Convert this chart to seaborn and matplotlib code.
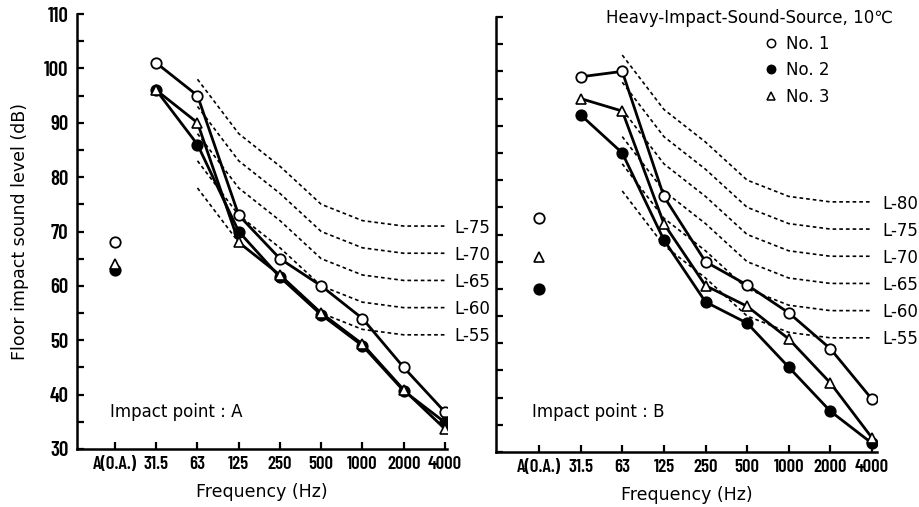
import numpy as np
import pandas as pd
import matplotlib
matplotlib.use("Agg")
import matplotlib.pyplot as plt
from matplotlib.lines import Line2D
from matplotlib.ticker import MultipleLocator, FixedLocator, NullFormatter
import seaborn as sns

# ---------------- data ----------------
freq_labels = ["A(O.A.)", "31.5", "63", "125", "250", "500", "1000", "2000", "4000"]
spec_freqs = ["31.5", "63", "125", "250", "500", "1000", "2000", "4000"]
lcurve_freqs = ["63", "125", "250", "500", "1000", "2000", "4000"]
series_names = ["No. 1", "No. 2", "No. 3"]

# Impact point A
aoa_A = [68, 63, 64]
no1_A = [101, 95, 73, 65, 60, 54, 45, 36.8]
no2_A = [96, 86, 70, 61.6, 54.7, 49, 40.7, 34.9]
no3_A = [96, 90, 68, 62, 55, 49.3, 40.9, 33.7]

# Impact point B
aoa_B = [73, 60, 65.8]
no1_B = [99, 100, 77, 65, 60.7, 55.6, 49, 39.7]
no2_B = [92, 85, 69, 57.6, 53.7, 45.6, 37.5, 31.6]
no3_B = [95, 92.7, 72, 60.6, 56.8, 50.8, 42.7, 32.6]

# L-curves (63 .. 4000 Hz)
L80 = [103, 93, 87, 80, 77, 76, 76]
L75 = [98, 88, 82, 75, 72, 71, 71]
L70 = [93, 83, 77, 70, 67, 66, 66]
L65 = [88, 78, 72, 65, 62, 61, 61]
L60 = [83, 73, 67, 60, 57, 56, 56]
L55 = [78, 68, 62, 55, 52, 51, 51]
left_lcurves = {"L-75": L75, "L-70": L70, "L-65": L65, "L-60": L60, "L-55": L55}
right_lcurves = {"L-80": L80, "L-75": L75, "L-70": L70, "L-65": L65, "L-60": L60, "L-55": L55}

# ---------------- style ----------------
sns.set_theme(style="ticks")
plt.rcParams["font.family"] = ["DejaVu Sans"]
plt.rcParams["axes.linewidth"] = 1.8
for k in ["text.color", "axes.labelcolor", "xtick.color", "ytick.color", "axes.edgecolor"]:
    plt.rcParams[k] = "black"

W, H = 919, 507
fig = plt.figure(figsize=(W / 100, H / 100), dpi=100)

def fx(px):
    return px / W

def fy(py):
    return 1 - py / H

ax1 = fig.add_axes([fx(77), fy(449), fx(447) - fx(77), fy(14) - fy(449)])
ax2 = fig.add_axes([fx(496), fy(452), fx(877) - fx(496), fy(17) - fy(452)])

pos = {f: i for i, f in enumerate(freq_labels)}
marker_styles = {
    "No. 1": dict(marker="o", mfc="white", mec="black", ms=7.5, mew=1.3),
    "No. 2": dict(marker="o", mfc="black", mec="black", ms=7.5, mew=1.3),
    "No. 3": dict(marker="^", mfc="white", mec="black", ms=7, mew=1.2),
}

cond_family = ["Barlow Condensed", "Sofia Sans Condensed", "DejaVu Sans"]

def draw_panel(ax, aoa, spectra, lcurves, label_text, xlim, text_pos):
    # L reference curves
    for name, vals in lcurves.items():
        d = pd.DataFrame({"x": [pos[f] for f in lcurve_freqs], "y": vals})
        sns.lineplot(data=d, x="x", y="y", ax=ax, color="black", lw=1.2,
                     linestyle=(0, (2.2, 1.8)), zorder=2)
        ax.text(8.24, vals[-1] - 0.3, name, ha="left", va="center", fontsize=12,
                clip_on=False, color="black")
    # measured spectra
    for name, vals in zip(series_names, spectra):
        d = pd.DataFrame({"x": [pos[f] for f in spec_freqs], "y": vals})
        sns.lineplot(data=d, x="x", y="y", ax=ax, color="black", lw=2.0,
                     zorder=3, **marker_styles[name])
    # A(O.A.) single values
    for name, v in zip(series_names, aoa):
        d = pd.DataFrame({"x": [pos["A(O.A.)"]], "y": [v]})
        sns.lineplot(data=d, x="x", y="y", ax=ax, color="black", lw=0,
                     zorder=4, **marker_styles[name])
    ax.set_xlim(*xlim)
    ax.set_ylim(30, 110)
    ax.set_xticks(range(len(freq_labels)))
    ax.set_xticklabels(freq_labels)
    for t in ax.get_xticklabels():
        t.set_family(cond_family)
        t.set_weight("semibold")
        t.set_fontsize(13.5)
    ax.set_xlabel("Frequency (Hz)", fontsize=12.5, labelpad=7)
    ax.text(*text_pos, label_text, fontsize=12, ha="left", va="center")
    sns.despine(ax=ax)
    ax.tick_params(axis="both", which="both", direction="in", length=5, width=1.6,
                   color="black")
    ax.tick_params(axis="x", pad=5)
    ax.grid(False)

draw_panel(ax1, aoa_A, [no1_A, no2_A, no3_A], left_lcurves, "Impact point : A",
           (-0.921, 8.05), (-0.12, 36.8))
draw_panel(ax2, aoa_B, [no1_B, no2_B, no3_B], right_lcurves, "Impact point : B",
           (-1.033, 8.12), (-0.17, 37.3))

# left y axis
ax1.set_yticks(range(30, 111, 10))
ax1.yaxis.set_minor_locator(MultipleLocator(5))
for t in ax1.get_yticklabels():
    t.set_family(cond_family)
    t.set_weight("semibold")
    t.set_fontsize(15)
ax1.tick_params(axis="y", pad=6)
ax1.set_ylabel("Floor impact sound level (dB)", fontsize=12.5)
ax1.yaxis.set_label_coords(-0.13, 0.5)

# right y axis: ticks only
ax2.yaxis.set_major_locator(FixedLocator(list(range(30, 111, 5))))
ax2.yaxis.set_major_formatter(NullFormatter())
ax2.set_ylabel("")

# title and legend
fig.text(fx(893), fy(18), "Heavy-Impact-Sound-Source, 10\u2103", ha="right",
         va="center", fontsize=12)
handles = [Line2D([], [], ls="", marker="o", mfc="white", mec="black", ms=6, mew=1.1),
           Line2D([], [], ls="", marker="o", mfc="black", mec="black", ms=6, mew=1.1),
           Line2D([], [], ls="", marker="^", mfc="white", mec="black", ms=6, mew=1.1)]
fig.legend(handles, series_names, loc="upper left",
           bbox_to_anchor=(fx(764), fy(35)), frameon=False, fontsize=12,
           handlelength=0.8, handletextpad=0.5, labelspacing=0.5,
           borderpad=0, borderaxespad=0)

fig.savefig("out.png", dpi=100)
